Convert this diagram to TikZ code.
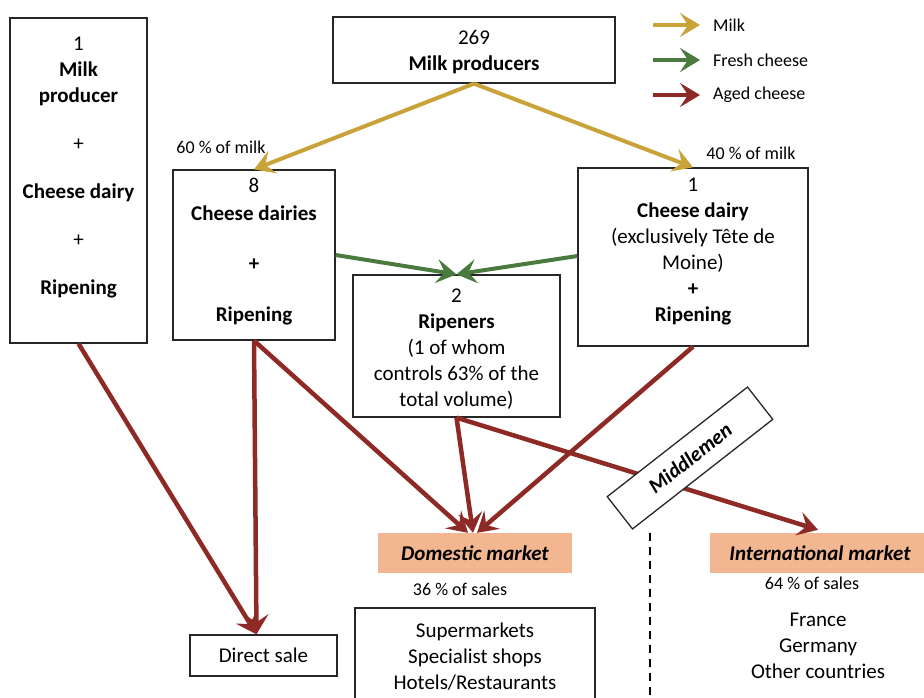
\documentclass[tikz,border=0pt]{standalone}
\usepackage{fontspec}
\setmainfont{Carlito}
\usetikzlibrary{arrows.meta,calc}
\definecolor{milkc}{HTML}{C9A23A}
\definecolor{freshc}{HTML}{4B7A3F}
\definecolor{agedc}{HTML}{8E2A25}
\definecolor{mktc}{HTML}{F2B790}
\begin{document}
\begin{tikzpicture}[x=1pt,y=-1pt,
 box/.style={draw=black!85, line width=1.3pt, fill=white, inner sep=0pt},
 txt/.style={align=center, font=\fontsize{21}{26}\selectfont, inner sep=0pt},
 small/.style={font=\fontsize{18}{22}\selectfont, inner sep=0pt},
 mkt/.style={fill=mktc, inner sep=0pt, font=\fontsize{21}{26}\selectfont\bfseries\itshape},
 tip/.style={-{Stealth[length=20pt,width=24pt,inset=8pt]}},
 milk/.style={tip, draw=milkc, fill=milkc, line width=4pt},
 fresh/.style={tip, draw=freshc, fill=freshc, line width=4pt},
 aged/.style={tip, draw=agedc, fill=agedc, line width=4.5pt}]
\useasboundingbox (0,0) rectangle (924,697);
\clip (0,0) rectangle (924,697);
% boxes
\node[box, minimum width=137, minimum height=325] (lb) at (78.5,180.5) {};
\node[box, minimum width=282, minimum height=66] (mp) at (474,50) {};
\node[box, minimum width=162, minimum height=170] (cd8) at (254,255) {};
\node[box, minimum width=230, minimum height=178] (cd1) at (693,257) {};
\node[box, minimum width=207, minimum height=142] (rip) at (456.5,346) {};
\node[mkt, minimum width=194, minimum height=40] (dm) at (475,553) {Domestic market};
\node[mkt, minimum width=220, minimum height=40] (im) at (820,553) {International market};
\node[box, minimum width=240, minimum height=110] (shops) at (475,663) {};
\node[box, minimum width=147, minimum height=41, font=\fontsize{21}{26}\selectfont] (ds) at (263.5,655.5) {Direct sale};
% texts
\node[txt] (lbt) at (78.5,168) {1\\\textbf{Milk}\\\textbf{producer}\\[22pt]+\\[22pt]\textbf{Cheese dairy}\\[22pt]+\\[22pt]\textbf{Ripening}};
\node[txt] (mpt) at (474,52) {269\\\textbf{Milk producers}};
\node[txt] (cd8t) at (254,251.5) {8\\[2pt]\textbf{Cheese dairies}\\[24pt]\textbf{+}\\[25pt]\textbf{Ripening}};
\node[txt] (cd1t) at (693,251.5) {1\\\textbf{Cheese dairy}\\(exclusively Tête de\\Moine)\\\textbf{+}\\\textbf{Ripening}};
\node[txt] (ript) at (456.5,349) {2\\\textbf{Ripeners}\\(1 of whom\\controls 63\% of the\\total volume)};
\node[txt] (shopst) at (475,657) {Supermarkets\\Specialist shops\\Hotels/Restaurants};
\node[txt] (imt) at (818,646) {France\\Germany\\Other countries};
\node[small] (l60) at (221,147) {60 \% of milk};
\node[small] (l40) at (751,153) {40 \% of milk};
\node[small] (l36) at (460,589) {36 \% of sales};
\node[small] (l64) at (812,583) {64 \% of sales};
% legend
\coordinate (lm1) at (653,25); \coordinate (lm2) at (700,25);
\coordinate (lf1) at (653,60); \coordinate (lf2) at (700,60);
\coordinate (la1) at (653,95); \coordinate (la2) at (700,95);
\draw[milk] (lm1) -- (lm2);
\draw[fresh] (lf1) -- (lf2);
\draw[aged] (la1) -- (la2);
\node[small, anchor=west] (lmt) at (713,25) {Milk};
\node[small, anchor=west] (lft) at (713,60) {Fresh cheese};
\node[small, anchor=west] (lat) at (713,95) {Aged cheese};
% flows
\draw[milk] (mp.south) -- (cd8.north);
\draw[milk] (mp.south) -- (cd1.north);
\draw[fresh] (cd8.east) -- (rip.north);
\draw[fresh] ($(cd1.west)+(0,-1)$) -- (rip.north);
\draw[aged] (lb.south) -- ($(ds.north)+(-7,0)$);
\draw[aged] (cd8.south) -- ($(ds.north)+(-7,0)$);
\draw[aged] (cd8.south) -- ($(dm.north)+(-7,0)$);
\draw[aged] (rip.south) -- ($(dm.north)+(-2,0)$);
\draw[aged] (cd1.south) -- ($(dm.north)+(2,0)$);
\draw[aged] (rip.south) -- ($(im.north)+(-2,-3)$);
% divider
\coordinate (dv1) at (650,533); \coordinate (dv2) at (650,697);
\draw[line width=2.5pt, dash pattern=on 8pt off 6pt] (dv1) -- (dv2);
% middlemen
\node[box, rotate=38, minimum width=178, minimum height=41, font=\fontsize{21}{26}\selectfont\bfseries\itshape] (mid) at (690,458) {Middlemen};
\end{tikzpicture}
\end{document}
